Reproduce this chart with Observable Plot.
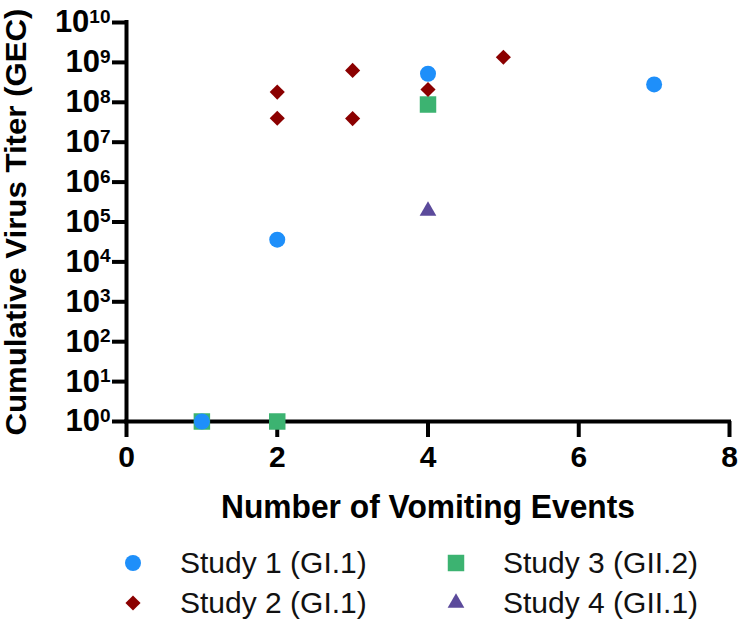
<!DOCTYPE html>
<html><head><meta charset="utf-8">
<script src="https://cdn.jsdelivr.net/npm/d3@7"></script>
<script src="https://cdn.jsdelivr.net/npm/@observablehq/plot@0.6"></script>
<style>
body{margin:0;background:#fff;font-family:"Liberation Sans",Arial,sans-serif;}
#chart{width:739px;height:626px;position:relative;}
#legend{position:absolute;left:125px;top:543px;display:grid;grid-template-columns:323px 290px;grid-template-rows:40px 40px;grid-auto-flow:column;}
.item{display:flex;align-items:center;font-size:30px;color:#111;}
.item svg{width:16px;height:16px;margin-right:39px;overflow:visible;flex:none}
</style></head><body><div id="chart"></div>
<script>
const studies = ["Study 1 (GI.1)", "Study 2 (GI.1)", "Study 3 (GII.2)", "Study 4 (GII.1)"];
const colors = ["#1e8ffa", "#8b0000", "#3cb371", "#5b4a9b"];
const symbols = ["circle", "diamond2", "square", "triangle"];
const symbolR = [8, 6.8, 9.3, 6.2];

const study1X = [1, 2, 4, 7];
const study1Y = [1, 3.6e4, 5.2e8, 2.8e8];
const study2X = [2, 2, 3, 3, 4, 5];
const study2Y = [1.8e8, 4.0e7, 6.3e8, 3.9e7, 2.1e8, 1.35e9];
const study3X = [1, 2, 4];
const study3Y = [1, 1, 8.8e7];
const study4X = [4];
const study4Y = [1.9e5];

const xTicks = [0, 2, 4, 6, 8];
const yTickExps = [0, 1, 2, 3, 4, 5, 6, 7, 8, 9, 10];
const xTitle = "Number of Vomiting Events";
const yTitle = "Cumulative Virus Titer (GEC)";

const rows = (xs, ys, i) => xs.map((x, j) => ({x, y: ys[j], study: studies[i]}));
const series = [rows(study1X, study1Y, 0), rows(study2X, study2Y, 1), rows(study3X, study3Y, 2), rows(study4X, study4Y, 3)];
const drawOrder = [2, 3, 1, 0];
const yTicks = yTickExps.map(e => Math.pow(10, e));

const plot = Plot.plot({
  width: 739, height: 530,
  marginLeft: 126, marginRight: 10, marginTop: 22, marginBottom: 109,
  x: {domain: [0, 8]},
  y: {type: "log", domain: [1, 1e10]},
  style: {fontFamily: "'Liberation Sans', Arial, sans-serif", color: "#000", background: "#fff"},
  marks: [
    Plot.axisX({ticks: xTicks, tickSize: 16, strokeWidth: 4, tickPadding: 8, fontSize: 30, fontWeight: "bold", label: null}),
    Plot.axisY({ticks: yTicks, tickSize: 14, strokeWidth: 4, tickPadding: 2, fontSize: 31, fontWeight: "bold", label: null,
      tickFormat: d => "10^" + Math.round(Math.log10(d))}),
    Plot.ruleX([0], {strokeWidth: 4, strokeLinecap: "square"}),
    Plot.ruleY([1], {strokeWidth: 4, strokeLinecap: "square"}),
    Plot.text([xTitle], {text: d => d, frameAnchor: "bottom", dy: 96, fontSize: 34, fontWeight: "bold"}),
    Plot.text([yTitle], {text: d => d, frameAnchor: "left", textAnchor: "middle", dx: -110, rotate: -90, fontSize: 30, fontWeight: "bold"}),
    ...drawOrder.map(i => Plot.dot(series[i], {x: "x", y: "y", symbol: symbols[i], fill: colors[i], r: symbolR[i]}))
  ]
});

d3.select(plot).selectAll('g[aria-label="y-axis tick label"] text').each(function() {
  const t = d3.select(this);
  const [b, e] = t.text().split("^");
  t.text("");
  t.append("tspan").text(b);
  t.append("tspan").attr("dy", "-0.5em").attr("font-size", "19px").text(e);
});
const allText = d3.select(plot).selectAll("text");
allText.filter(function() { return this.textContent === xTitle; })
  .attr("textLength", 414).attr("lengthAdjust", "spacingAndGlyphs");
allText.filter(function() { return this.textContent === yTitle; })
  .attr("textLength", 427).attr("lengthAdjust", "spacingAndGlyphs");

const chart = document.getElementById("chart");
chart.appendChild(plot);

const legend = d3.select(chart).append("div").attr("id", "legend");
const symMap = {circle: d3.symbolCircle, diamond2: d3.symbolDiamond2, square: d3.symbolSquare, triangle: d3.symbolTriangle};
studies.forEach((s, i) => {
  const item = legend.append("div").attr("class", "item");
  const svg = item.append("svg").attr("viewBox", "-8 -8 16 16");
  svg.append("path").attr("d", d3.symbol(symMap[symbols[i]], Math.PI * symbolR[i] * symbolR[i])()).attr("fill", colors[i]);
  item.append("span").text(s);
});
</script>
</body></html>
